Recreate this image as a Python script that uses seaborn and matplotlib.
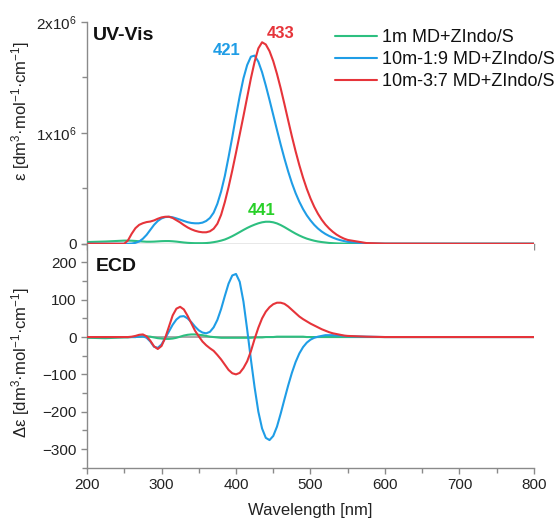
import numpy as np
import pandas as pd
import matplotlib
matplotlib.use("Agg")
import matplotlib.pyplot as plt
import seaborn as sns
from matplotlib.ticker import MultipleLocator, FixedLocator, FuncFormatter

# ---------------- data ----------------
wavelength = [200, 225, 250, 255, 260, 265, 270, 275, 280, 285, 290, 295, 300, 305, 310, 315,
              320, 325, 330, 335, 340, 345, 350, 355, 360, 365, 370, 375, 380, 385, 390, 395,
              400, 405, 410, 415, 420, 425, 430, 435, 440, 445, 450, 455, 460, 465, 470, 475,
              480, 485, 490, 495, 500, 505, 510, 515, 520, 525, 530, 535, 540, 545, 550, 575,
              600, 700, 800]

series_names = ["1m MD+ZIndo/S", "10m-1:9 MD+ZIndo/S", "10m-3:7 MD+ZIndo/S"]

# UV-Vis epsilon, in units of 10^3 dm3 mol-1 cm-1
uv_green_k = [15, 20, 28, 28, 27, 25, 22, 20, 18, 18, 19, 21, 23, 24, 24, 22,
              19, 15, 11, 8, 6, 5, 5, 5, 6, 9, 14, 20, 28, 38, 52, 68,
              86, 105, 124, 142, 158, 172, 184, 193, 198, 198, 193, 183, 168, 150, 130, 110,
              91, 74, 59, 46, 36, 27, 20, 15, 11, 7, 5, 3, 2, 1, 1, 0,
              0, 0, 0]
uv_blue_k = [0, 0, 0, 0, 2, 8, 20, 45, 80, 125, 170, 205, 228, 240, 243, 238,
             228, 217, 205, 194, 187, 184, 184, 190, 205, 232, 280, 360, 470, 610, 780, 960,
             1150, 1330, 1490, 1610, 1685, 1695, 1640, 1545, 1425, 1295, 1160, 1025, 893, 768, 652, 547,
             456, 378, 312, 256, 210, 170, 137, 110, 88, 70, 55, 42, 32, 24, 17, 3,
             0, 0, 0]
uv_red_k = [0, 0, 0, 30, 90, 140, 170, 185, 195, 200, 210, 225, 237, 243, 243, 232,
            212, 192, 168, 147, 130, 117, 108, 103, 103, 112, 135, 180, 260, 375, 510, 660,
            820, 985, 1150, 1320, 1490, 1640, 1760, 1815, 1795, 1735, 1645, 1530, 1400, 1258, 1112, 968,
            833, 708, 595, 495, 408, 333, 270, 217, 173, 137, 107, 82, 62, 46, 34, 6,
            1, 0, 0]

# ECD delta epsilon
ecd_green = [-2, -3, -1, -1, 0, 0, 1, 2, 2, 1, -1, -3, -4, -5, -5, -4,
             -2, 1, 4, 6, 7, 7, 6, 5, 3, 1, 0, -1, -2, -2, -2, -2,
             -2, -2, -2, -2, -2, -1, -1, -1, 0, 0, 0, 1, 1, 1, 1, 1,
             1, 1, 1, 0, 0, 0, 0, 0, 0, 0, 0, 0, 0, 0, 0, 0,
             0, 0, 0]
ecd_blue = [0, 0, 0, 0, 0, 0, 1, 2, -2, -12, -26, -29, -20, -3, 15, 33,
            47, 55, 56, 50, 40, 28, 18, 12, 10, 14, 26, 46, 75, 110, 143, 165,
            169, 148, 95, 20, -60, -135, -200, -245, -270, -276, -265, -240, -205, -167, -130, -96,
            -67, -44, -27, -15, -7, -2, 1, 3, 5, 5, 5, 4, 4, 3, 2, 1,
            0, 0, 0]
ecd_red = [0, 0, 0, 0, 1, 3, 6, 7, 2, -10, -25, -32, -24, -2, 28, 58,
           76, 81, 74, 57, 37, 17, 2, -12, -22, -30, -37, -48, -60, -74, -88, -97,
           -100, -96, -83, -65, -38, -5, 25, 50, 68, 80, 88, 92, 92, 89, 82, 73,
           64, 55, 48, 42, 36, 31, 26, 21, 17, 13, 10, 8, 6, 4, 3, 1,
           0, 0, 0]

peak_labels = ["441", "421", "433"]
peak_label_x = [434, 388, 460]
peak_label_y = [0.30e6, 1.745e6, 1.895e6]

line_colors = ["#2dbf80", "#1f9de6", "#e6343a"]
label_colors = ["#28d028", "#1f9de6", "#e6343a"]

# ---------------- style ----------------
sns.set_style("ticks")
plt.rcParams["font.family"] = ["Liberation Sans", "DejaVu Sans"]
plt.rcParams["mathtext.default"] = "regular"

spine_c = "#8a8a8a"
text_c = "#222222"

fig = plt.figure(figsize=(5.57, 5.21), dpi=100)
ax1 = fig.add_axes([0.1562, 0.5322, 0.8025, 0.4261])
ax2 = fig.add_axes([0.1562, 0.1023, 0.8025, 0.4299])

uv_sets = [uv_green_k, uv_blue_k, uv_red_k]
ecd_sets = [ecd_green, ecd_blue, ecd_red]
wl = np.array(wavelength, dtype=float)

ax2.axhline(0, color="#9a9a9a", lw=1.2, zorder=1)

for name, col, uvk in zip(series_names, line_colors, uv_sets):
    sns.lineplot(x=wl, y=np.array(uvk, dtype=float) * 1000.0, color=col, lw=1.5,
                 label=name, ax=ax1, zorder=3)
for name, col, e in zip(series_names, line_colors, ecd_sets):
    sns.lineplot(x=wl, y=np.array(e, dtype=float), color=col, lw=1.5,
                 ax=ax2, zorder=3, legend=False)

for t, x, y, c in zip(peak_labels, peak_label_x, peak_label_y, label_colors):
    ax1.text(x, y, t, color=c, fontsize=12, fontweight="bold", ha="center", va="center")

ax1.text(0.013, 0.975, "UV-Vis", transform=ax1.transAxes, fontsize=14, fontweight="bold",
         ha="left", va="top", color="#111111")
ax2.text(0.02, 0.935, "ECD", transform=ax2.transAxes, fontsize=14, fontweight="bold",
         ha="left", va="top", color="#111111")

for ax in (ax1, ax2):
    ax.set_xlim(200, 800)
    ax.xaxis.set_major_locator(MultipleLocator(100))
    ax.xaxis.set_minor_locator(MultipleLocator(50))
    for s in ("top", "right"):
        ax.spines[s].set_visible(False)
    for s in ("left", "bottom"):
        ax.spines[s].set_color(spine_c)
        ax.spines[s].set_linewidth(1.0)
    ax.tick_params(which="major", direction="out", length=4.5, width=1.0, color=spine_c,
                   labelsize=11, labelcolor=text_c, pad=3)
    ax.tick_params(which="minor", direction="out", length=3.5, width=1.0, color=spine_c)
    ax.set_facecolor("white")

ax1.set_ylim(0, 2e6)
ax1.yaxis.set_major_locator(FixedLocator([0, 1e6, 2e6]))
ax1.yaxis.set_minor_locator(FixedLocator([0.5e6, 1.5e6]))
ax1.yaxis.set_major_formatter(FuncFormatter(
    lambda v, p: {0: "0", 1: "1x10$^{6}$", 2: "2x10$^{6}$"}.get(int(round(v / 1e6)), "")))
ax1.tick_params(axis="x", labelbottom=False)
ax1.set_xlabel("")

ax2.set_ylim(-350, 250)
ax2.yaxis.set_major_locator(MultipleLocator(100))
ax2.yaxis.set_minor_locator(MultipleLocator(50))

ax1.set_ylabel(r"ε [dm$^{3}$·mol$^{-1}$·cm$^{-1}$]", fontsize=12, color=text_c)
ax2.set_ylabel(r"Δε [dm$^{3}$·mol$^{-1}$·cm$^{-1}$]", fontsize=12, color=text_c)
ax1.yaxis.set_label_coords(-0.123, 0.60)
ax2.yaxis.set_label_coords(-0.123, 0.472)
ax2.set_xlabel("Wavelength [nm]", fontsize=12, color=text_c, labelpad=8)

handles, labels = ax1.get_legend_handles_labels()
if ax1.get_legend() is not None:
    ax1.get_legend().remove()
fig.legend(handles, labels, loc="upper left", bbox_to_anchor=(335 / 557, 0.944),
           frameon=False, fontsize=13, handlelength=2.3, handletextpad=0.3,
           labelspacing=0.28, borderpad=0, borderaxespad=0, labelcolor="#111111")

fig.savefig("out.png", dpi=100, facecolor="white")
